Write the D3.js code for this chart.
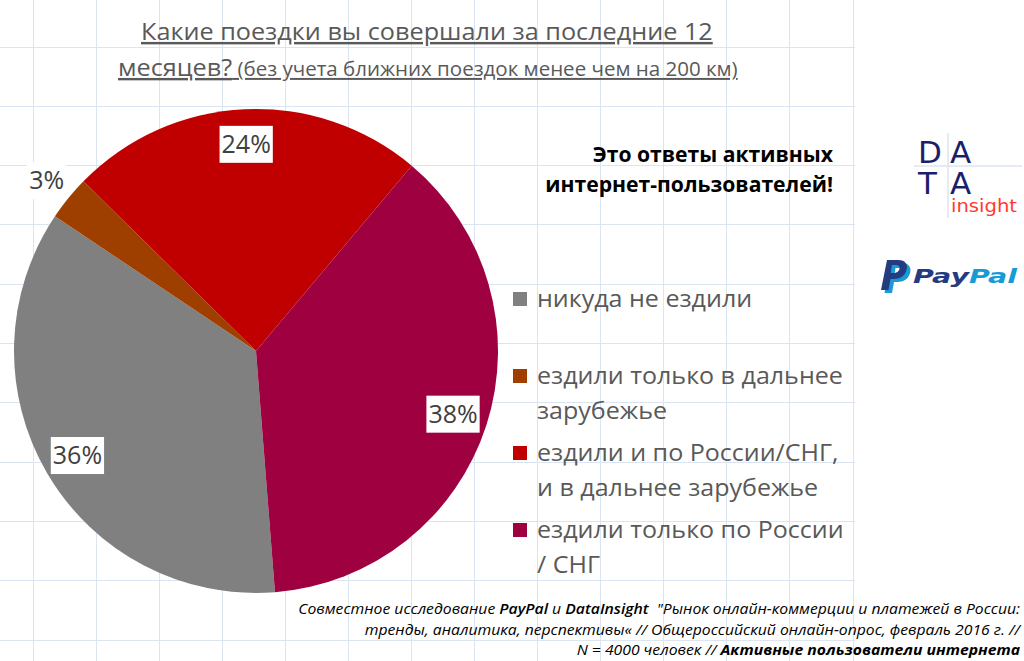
<!DOCTYPE html>
<html><head><meta charset="utf-8">
<script src="https://cdn.jsdelivr.net/npm/d3@7"></script>
<style>body{margin:0;background:#fff}svg{display:block}text{white-space:pre}</style>
</head><body>
<svg id="c" width="1024" height="661"></svg>
<script>
// ---- data ----
const categories = ["никуда не ездили", "ездили только в дальнее зарубежье", "ездили и по России/СНГ, и в дальнее зарубежье", "ездили только по России / СНГ"];
const values = [36, 3, 24, 38];
const valueLabels = ["36%", "3%", "24%", "38%"];
const legendLines = [["никуда не ездили"], ["ездили только в дальнее", "зарубежье"], ["ездили и по России/СНГ,", "и в дальнее зарубежье"], ["ездили только по России", "/ СНГ"]];
const titleLine1 = "Какие поездки вы совершали за последние 12";
const titleLine2a = "месяцев?";
const titleLine2b = " (без учета ближних поездок менее чем на 200 км)";
const noteLines = ["Это ответы активных", "интернет-пользователей!"];
const footerLines = [
  [["Совместное исследование ", 400], ["PayPal", 600], [" и ", 400], ["DataInsight", 600], ["  \"Рынок онлайн-коммерции и платежей в России:", 400]],
  [["тренды, аналитика, перспективы« // Общероссийский онлайн-опрос, февраль 2016 г. //", 400]],
  [["N = 4000 человек // ", 400], ["Активные пользователи интернета", 700]]
];

const colors = ["#808080", "#9e3f00", "#c00000", "#9e0040"];
const svg = d3.select("#c");
const F = "'Open Sans', 'Noto Sans', sans-serif";

// ---- background grid ----
const gridC = "#dbe5f1";
const gx = d3.range(0, 14).map(k => 33 + 63.08 * k);
const gy = d3.range(0, 11).map(k => 47 + 59.3 * k);
const grid = svg.append("g").attr("stroke", gridC).attr("stroke-width", 1).attr("shape-rendering", "crispEdges");
grid.selectAll("line.v").data(gx).join("line").attr("x1", d => d).attr("x2", d => d).attr("y1", 0).attr("y2", 661);
grid.selectAll("line.h").data(gy).join("line").attr("x1", 0).attr("x2", 855).attr("y1", d => d).attr("y2", d => d);

// ---- helper to make scaled text lines ----
function line(parent, x, y, anchor, parts, size, color, weight, style) {
  const g = parent.append("g").attr("transform", `translate(${x},${y})`);
  const t = g.append("text").attr("text-anchor", anchor).attr("font-family", F)
    .attr("font-size", size).attr("fill", color).attr("font-weight", weight || 400)
    .attr("font-style", style || "normal");
  parts.forEach(p => t.append("tspan").text(p[0]).attr("font-weight", p[1] || weight || 400).attr("font-size", p[2] || size));
  return {g, t, w: t.node().getComputedTextLength()};
}
function scaleTo(obj, sx) { obj.t.attr("transform", `scale(${sx},1)`); }

// ---- title ----
const tl1 = line(svg, 141, 40, "start", [[titleLine1]], 24, "#595959");
tl1.t.attr("text-decoration", "underline");
scaleTo(tl1, 572 / tl1.w);
const tl2 = line(svg, 118, 76, "start", [[titleLine2a, 400, 24], [titleLine2b, 400, 19.5]], 24, "#595959");
tl2.t.attr("text-decoration", "underline");
scaleTo(tl2, 620 / tl2.w);

// ---- pie ----
const cx = 256, cy = 351, R = 242;
const a0 = 175.5 * Math.PI / 180;
const color = d3.scaleOrdinal().domain(categories).range(colors);
const arcs = d3.pie().sort(null).startAngle(a0).endAngle(a0 + 2 * Math.PI)(values);
const arc = d3.arc().innerRadius(0).outerRadius(R);
const pg = svg.append("g").attr("transform", `translate(${cx},${cy})`);
pg.selectAll("path").data(arcs).join("path").attr("d", arc).attr("fill", (d, i) => color(categories[i]));

const inArc = d3.arc().innerRadius(R * 0.855).outerRadius(R * 0.855);
const outArc = d3.arc().innerRadius(270).outerRadius(270);
const lfs = 25;
arcs.forEach((d, i) => {
  const share = d.value / d3.sum(values);
  const [x, y] = (share < 0.05 ? outArc : inArc).centroid(d);
  const lg = pg.append("g").attr("transform", `translate(${x},${y})`);
  const rect = lg.append("rect").attr("fill", "#fff");
  const t = lg.append("text").attr("text-anchor", "middle").attr("font-family", F)
    .attr("font-size", lfs).attr("fill", "#404040").attr("y", lfs * 0.357).text(valueLabels[i]);
  const w = t.node().getComputedTextLength();
  rect.attr("x", -w / 2 - 2).attr("width", w + 4).attr("y", -18.5).attr("height", 37);
});

// ---- legend ----
const lg = svg.append("g");
categories.forEach((c, i) => {
  const base = 307 + 77 * i;
  lg.append("rect").attr("x", 513).attr("y", base - 15).attr("width", 14).attr("height", 14).attr("fill", color(c));
});
const legObjs = [];
legendLines.forEach((lines, i) => {
  const base = 307 + 77 * i;
  lines.forEach((s, j) => legObjs.push(line(lg, 537, base + 35 * j, "start", [[s]], 24, "#595959")));
});
const refW = legObjs[1].w;
legObjs.forEach(o => scaleTo(o, 306 / refW));

// ---- note ----
const n1 = line(svg, 833, 162, "end", [[noteLines[0]]], 21, "#000", 700);
const n2 = line(svg, 833, 192, "end", [[noteLines[1]]], 21, "#000", 700);
const ns = 288 / n2.w;
scaleTo(n1, ns); scaleTo(n2, ns);

// ---- footer ----
const fb = [614, 635, 655];
const fObjs = footerLines.map((parts, i) => line(svg, 1020, fb[i], "end", parts, 15, "#000", 400, "italic"));
const fs = 722 / fObjs[0].w;
fObjs.forEach(o => scaleTo(o, fs));

// ---- DATA insight logo ----
const logo = svg.append("g");
logo.append("line").attr("x1", 948).attr("x2", 948).attr("y1", 133).attr("y2", 218).attr("stroke", gridC).attr("stroke-width", 1.5);
logo.append("line").attr("x1", 914).attr("x2", 1022).attr("y1", 166).attr("y2", 166).attr("stroke", gridC).attr("stroke-width", 1.5);
const LF = "'DejaVu Sans', sans-serif";
[["D", 918, 163], ["A", 950, 163], ["T", 918, 194], ["A", 950, 194]].forEach(d => {
  logo.append("text").attr("x", d[1]).attr("y", d[2]).attr("font-family", LF).attr("font-size", 31)
    .attr("font-weight", 400).attr("fill", "#1b1f6b").text(d[0]);
});
const ins = logo.append("text").attr("x", 951).attr("y", 212).attr("font-family", LF).attr("font-size", 17)
  .attr("fill", "#ff3b2f").text("insight");
ins.attr("textLength", 66).attr("lengthAdjust", "spacingAndGlyphs");

// ---- PayPal logo ----
const pp = svg.append("g").attr("transform", "translate(881,260)");
const P = "M6,0 L17,0 C25,0 27,5 25.5,10 C24,16 19,19 13,19 L9.5,19 L7.5,30 L0,30 Z M11,5 L9.7,13 L12.5,13 C16,13 18,11 18.5,9 C19,6.5 17.5,5 15,5 Z";
pp.append("path").attr("d", P).attr("transform", "translate(3.5,3)").attr("fill", "#179bd7").attr("fill-rule", "evenodd");
pp.append("path").attr("d", P).attr("fill", "#253b80").attr("fill-rule", "evenodd");
const ppt = svg.append("text").attr("x", 913).attr("y", 283).attr("font-family", LF).attr("font-size", 19)
  .attr("font-weight", 700).attr("font-style", "italic");
ppt.append("tspan").text("Pay").attr("fill", "#253b80");
ppt.append("tspan").text("Pal").attr("fill", "#179bd7");
ppt.attr("textLength", 104).attr("lengthAdjust", "spacingAndGlyphs");
</script>
</body></html>
